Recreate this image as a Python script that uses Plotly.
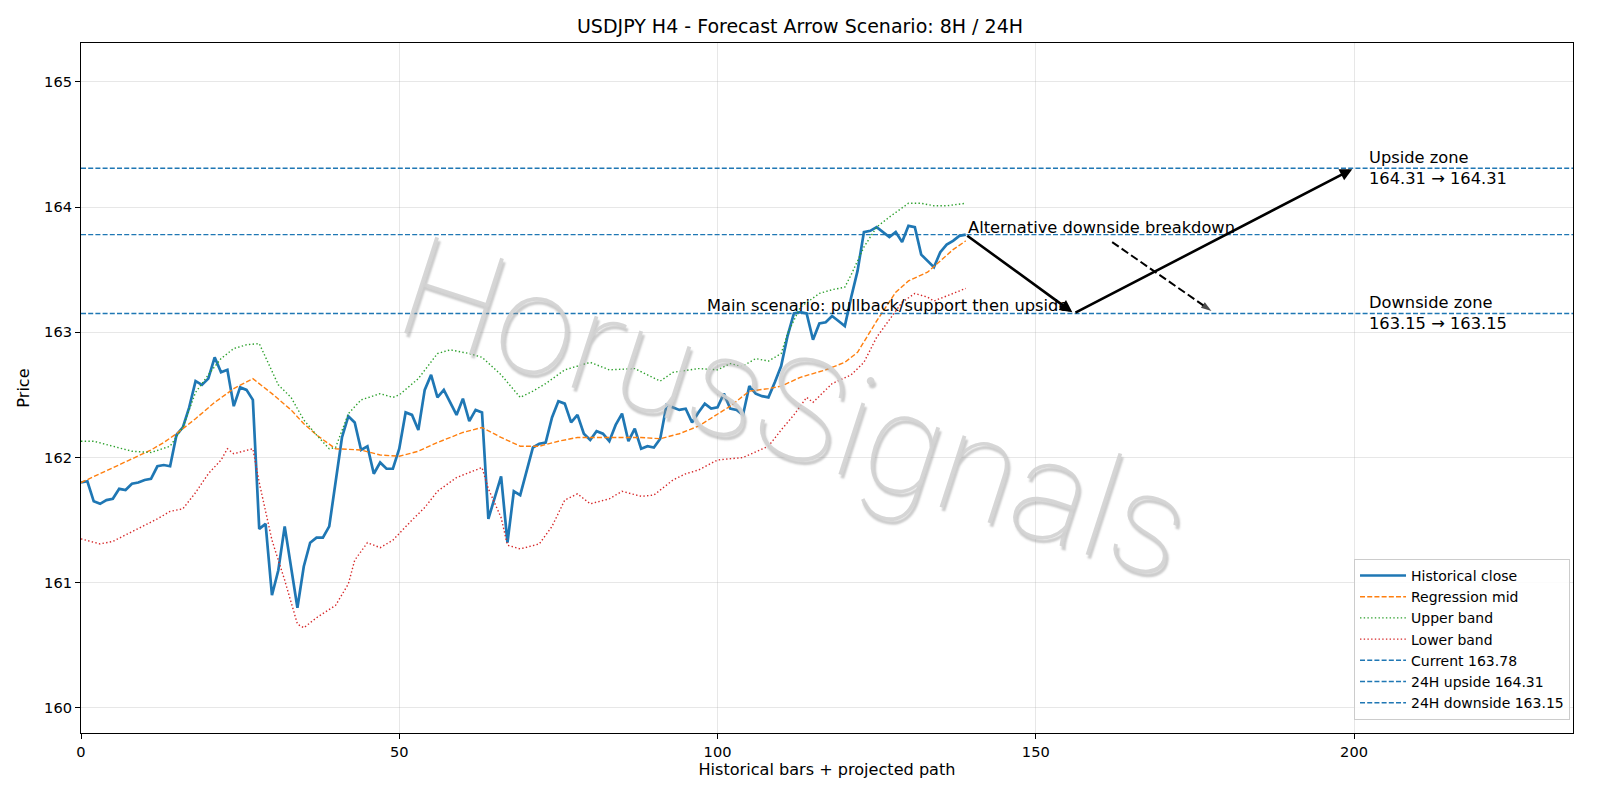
import plotly.graph_objects as go

# ---------------- data ----------------
close = [161.80, 161.81, 161.65, 161.63, 161.66, 161.67, 161.75, 161.74, 161.79, 161.80,
         161.82, 161.83, 161.93, 161.94, 161.93, 162.18, 162.24, 162.40, 162.61, 162.58,
         162.63, 162.80, 162.68, 162.70, 162.41, 162.56, 162.54, 162.46, 161.43, 161.47,
         160.90, 161.10, 161.45, 161.13, 160.80, 161.13, 161.32, 161.36, 161.36, 161.45,
         161.82, 162.16, 162.33, 162.28, 162.06, 162.09, 161.87, 161.96, 161.91, 161.91,
         162.07, 162.36, 162.34, 162.22, 162.54, 162.66, 162.48, 162.54, 162.44, 162.34,
         162.47, 162.29, 162.38, 162.36, 161.51, 161.69, 161.85, 161.32, 161.73, 161.70,
         161.88, 162.08, 162.11, 162.12, 162.32, 162.45, 162.43, 162.28, 162.34, 162.19,
         162.14, 162.21, 162.19, 162.13, 162.26, 162.35, 162.13, 162.23, 162.07, 162.09,
         162.08, 162.15, 162.42, 162.40, 162.38, 162.39, 162.28, 162.36, 162.43, 162.39,
         162.40, 162.51, 162.39, 162.38, 162.34, 162.57, 162.51, 162.49, 162.48, 162.60,
         162.73, 162.97, 163.15, 163.16, 163.15, 162.94, 163.07, 163.08, 163.13, 163.09,
         163.05, 163.28, 163.49, 163.80, 163.81, 163.84, 163.80, 163.76, 163.80, 163.72,
         163.85, 163.84, 163.62, 163.57, 163.52, 163.64, 163.70, 163.73, 163.77, 163.78]
bars = list(range(len(close)))

mid_x = [0, 3, 6, 9, 11, 13, 15, 18, 21, 24, 27, 30, 33, 35, 37, 40, 44, 47, 50, 53,
         56, 60, 63, 66, 69, 72, 75, 78, 82, 85, 88, 91, 94, 97, 100, 102, 105, 108, 110,
         113, 117, 120, 122, 125, 128, 130, 133, 135, 137, 139]
mid_y = [161.80, 161.87, 161.94, 162.01, 162.06, 162.12, 162.19, 162.31, 162.44, 162.55,
         162.63, 162.51, 162.38, 162.27, 162.18, 162.07, 162.06, 162.02, 162.01, 162.05,
         162.12, 162.20, 162.24, 162.16, 162.09, 162.09, 162.13, 162.16, 162.16, 162.16,
         162.16, 162.15, 162.19, 162.25, 162.35, 162.41, 162.53, 162.55, 162.57, 162.64,
         162.70, 162.76, 162.84, 163.09, 163.32, 163.41, 163.48, 163.57, 163.66, 163.73]

up_x = [0, 2, 5, 8, 11, 14, 16, 18, 20, 22, 24, 26, 28, 29, 31, 33, 35, 37, 39, 40,
        42, 44, 47, 49, 50, 53, 56, 58, 61, 63, 66, 69, 71, 73, 76, 80, 83, 87, 91, 93,
        97, 100, 102, 104, 106, 108, 110, 111, 113, 116, 118, 120, 121, 123, 125, 127,
        129, 130, 132, 134, 136, 139]
up_y = [162.13, 162.13, 162.09, 162.05, 162.04, 162.09, 162.24, 162.52, 162.66, 162.79,
        162.87, 162.90, 162.91, 162.80, 162.58, 162.48, 162.30, 162.18, 162.07, 162.08,
        162.35, 162.46, 162.51, 162.48, 162.50, 162.63, 162.83, 162.86, 162.83, 162.80,
        162.66, 162.48, 162.53, 162.59, 162.70, 162.76, 162.70, 162.71, 162.61, 162.68,
        162.71, 162.70, 162.75, 162.73, 162.79, 162.77, 162.83, 162.99, 163.20, 163.31,
        163.34, 163.36, 163.46, 163.68, 163.84, 163.92, 163.99, 164.03, 164.03, 164.01,
        164.01, 164.03]

lo_x = [0, 3, 5, 7, 9, 12, 14, 16, 18, 20, 22, 23, 24, 27, 28, 30, 32, 34, 35, 37,
        40, 42, 43, 45, 47, 49, 52, 54, 56, 59, 61, 63, 64, 66, 67, 69, 72, 74, 76, 78,
        80, 83, 85, 88, 90, 93, 95, 97, 100, 104, 108, 110, 112, 114, 115, 118, 121, 123,
        125, 127, 129, 131, 133, 134, 137, 139]
lo_y = [161.35, 161.31, 161.33, 161.38, 161.43, 161.51, 161.57, 161.59, 161.72, 161.87,
        161.98, 162.07, 162.03, 162.07, 161.80, 161.34, 161.02, 160.67, 160.64, 160.72,
        160.82, 160.99, 161.18, 161.32, 161.28, 161.34, 161.50, 161.60, 161.73, 161.84,
        161.88, 161.92, 161.75, 161.52, 161.30, 161.27, 161.31, 161.45, 161.66, 161.71,
        161.63, 161.67, 161.73, 161.69, 161.70, 161.82, 161.87, 161.90, 161.98, 162.00,
        162.09, 162.22, 162.34, 162.48, 162.44, 162.59, 162.66, 162.76, 162.96, 163.10,
        163.24, 163.31, 163.28, 163.25, 163.31, 163.35]

current = 163.78
upside = 164.31
downside = 163.15

# forecast path: current -> support -> upside target
path_x = [139, 156, 200]
path_y = [current, downside, upside]
# alternative (dashed) breakdown arrow
alt_x = [162, 177.6]
alt_y = [163.72, 163.17]

X_RANGE = [0, 234.4]
Y_RANGE = [159.80, 165.31]
x_ticks = [0, 50, 100, 150, 200]
y_ticks = [160, 161, 162, 163, 164, 165]

BLUE = "#1f77b4"
ORANGE = "#ff7f0e"
GREEN = "#2ca02c"
RED = "#d62728"
FONT = "DejaVu Sans"

fig = go.Figure()

fig.add_trace(go.Scatter(x=bars, y=close, mode="lines", name="Historical close",
                         line=dict(color=BLUE, width=2.7)))
fig.add_trace(go.Scatter(x=mid_x, y=mid_y, mode="lines", name="Regression mid",
                         line=dict(color=ORANGE, width=1.4, dash="5px,2.2px")))
fig.add_trace(go.Scatter(x=up_x, y=up_y, mode="lines", name="Upper band",
                         line=dict(color=GREEN, width=1.4, dash="1.4px,2.3px")))
fig.add_trace(go.Scatter(x=lo_x, y=lo_y, mode="lines", name="Lower band",
                         line=dict(color=RED, width=1.4, dash="1.4px,2.3px")))
for lvl, nm in [(current, f"Current {current:.2f}"),
                (upside, f"24H upside {upside:.2f}"),
                (downside, f"24H downside {downside:.2f}")]:
    fig.add_trace(go.Scatter(x=X_RANGE, y=[lvl, lvl], mode="lines", name=nm,
                             line=dict(color=BLUE, width=1.4, dash="5px,2.2px")))

# dashed alternative arrow
fig.add_trace(go.Scatter(x=alt_x, y=alt_y, mode="lines+markers", showlegend=False,
                         line=dict(color="black", width=2, dash="8px,3.5px"),
                         marker=dict(symbol="arrow", size=[0, 11], color="black",
                                     angleref="previous", line=dict(width=0)),
                         hoverinfo="skip"))

annotations = []
# solid main-scenario arrows
for i in range(len(path_x) - 1):
    annotations.append(dict(x=path_x[i + 1], y=path_y[i + 1], ax=path_x[i], ay=path_y[i],
                            xref="x", yref="y", axref="x", ayref="y", text="",
                            showarrow=True, arrowhead=2, arrowsize=0.95, arrowwidth=2.6,
                            arrowcolor="black", standoff=2))

tf = dict(family=FONT, size=16.3, color="black")
annotations += [
    dict(x=path_x[0], y=current, xref="x", yref="y", text="Alternative downside breakdown",
         showarrow=False, xanchor="left", yanchor="bottom", yshift=-4, font=tf),
    dict(x=155.3, y=downside, xref="x", yref="y",
         text="Main scenario: pullback/support then upside",
         showarrow=False, xanchor="right", yanchor="bottom", yshift=-4, font=tf),
    dict(x=202, y=upside, xref="x", yref="y", text=f"Upside zone<br>{upside:.2f} → {upside:.2f}",
         showarrow=False, xanchor="left", yanchor="middle", align="left", font=tf),
    dict(x=202, y=downside, xref="x", yref="y",
         text=f"Downside zone<br>{downside:.2f} → {downside:.2f}",
         showarrow=False, xanchor="left", yanchor="middle", align="left", font=tf),
    # watermark
    dict(x=0.478, y=0.47, xref="paper", yref="paper", text="HorusSignals", showarrow=False,
         textangle=18, xanchor="center", yanchor="middle",
         font=dict(family="Roboto", size=142, color="rgba(210,210,210,0.9)", weight=100,
                   shadow="3px 3px 2px rgba(150,150,150,0.55)")),
]

axis_common = dict(showline=True, linecolor="black", linewidth=1.2, mirror=True,
                   ticks="outside", ticklen=5, tickwidth=1.2, tickcolor="black",
                   showgrid=True, gridcolor="rgba(176,176,176,0.3)", gridwidth=1,
                   zeroline=False, tickfont=dict(family=FONT, size=14.6, color="black"))

fig.update_layout(
    width=1600, height=800,
    paper_bgcolor="white", plot_bgcolor="white",
    margin=dict(l=81, r=27, t=43, b=67),
    title=dict(text="USDJPY H4 - Forecast Arrow Scenario: 8H / 24H", x=0.5, xanchor="center",
               y=1 - 26.5 / 800, yanchor="middle", yref="container",
               font=dict(family=FONT, size=19.0, color="black")),
    xaxis=dict(range=X_RANGE, tickvals=x_ticks, ticktext=[str(t) for t in x_ticks],
               title=dict(text="Historical bars + projected path", standoff=4,
                          font=dict(family=FONT, size=16.1, color="black")),
               **axis_common),
    yaxis=dict(range=Y_RANGE, tickvals=y_ticks, ticktext=[str(t) for t in y_ticks],
               title=dict(text="Price", standoff=10,
                          font=dict(family=FONT, size=16.1, color="black")),
               **axis_common),
    legend=dict(x=0.998, y=0.019, xanchor="right", yanchor="bottom",
                bgcolor="rgba(255,255,255,0.85)", bordercolor="#cccccc", borderwidth=1,
                font=dict(family=FONT, size=14.0, color="black"), tracegroupgap=0,
                itemwidth=46),
    annotations=annotations,
    showlegend=True,
)

fig.write_html("out.html")
